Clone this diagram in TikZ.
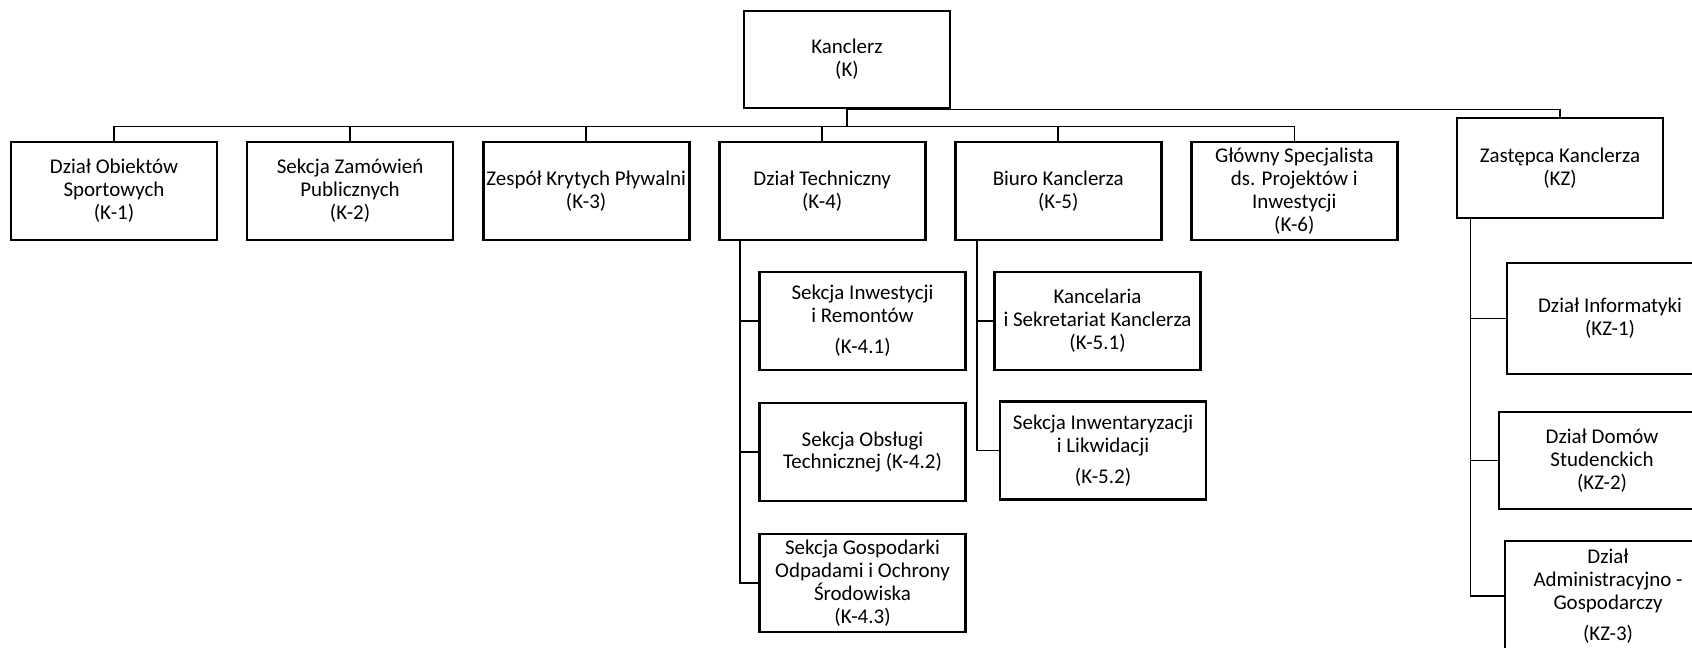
\documentclass[tikz,border=0pt]{standalone}
\usepackage{fontspec}
\setmainfont{Carlito}
\usetikzlibrary{positioning}

\begin{document}
\begin{tikzpicture}[x=0.025cm,y=-0.025cm,node distance=5.9cm,
                    font=\fontsize{14.9}{16.3}\selectfont,
                    unit/.style={draw,line width=2pt,minimum width=5.15cm,
                                 minimum height=2.45cm,align=center,inner sep=1pt},
                    link/.style={line width=1.1pt}]
  \useasboundingbox (0,0) rectangle (1692,647);
  \fill[white] (0,0) rectangle (1692,647);
  \clip (0,0) rectangle (1692,647);

  \node[unit,minimum height=2.425cm] (K) at (847,59.5) {Kanclerz\\(K)};

  \node[unit]         (K1) at (114,191)   {Dział Obiektów\\Sportowych\\(K-1)};
  \node[unit]         (K2) [right of=K1]  {Sekcja Zamówień\\Publicznych\\(K-2)};
  \node[unit]         (K3) [right of=K2]  {Zespół Krytych Pływalni\\(K-3)};
  \node[unit]         (K4) [right of=K3]  {Dział Techniczny\\(K-4)};
  \node[unit]         (K5) [right of=K4]  {Biuro Kanclerza\\(K-5)};
  \node[unit]         (K6) [right of=K5]  {Główny Specjalista\\ds. Projektów i\\Inwestycji\\(K-6)};
  \node[unit,minimum height=2.5cm] (KZ) at (1560,168) {Zastępca Kanclerza\\(KZ)};

  % Dzial Techniczny
  \node[unit]         (K41) at (862.5,321) {Sekcja Inwestycji\\i Remontów\\[0.2cm](K-4.1)};
  \node[unit]         (K42) [below of=K41,node distance=3.275cm] {Sekcja Obsługi\\Technicznej (K-4.2)};
  \node[unit]         (K43) [below of=K42,node distance=3.275cm] {Sekcja Gospodarki\\Odpadami i Ochrony\\Środowiska\\(K-4.3)};

  % Biuro Kanclerza
  \node[unit]         (K51) at (1097.5,321) {Kancelaria\\i Sekretariat Kanclerza\\(K-5.1)};
  \node[unit]         (K52) at (1103,450.5) {Sekcja Inwentaryzacji\\i Likwidacji\\[0.2cm](K-5.2)};

  % Zastepca Kanclerza
  \node[unit,minimum height=2.775cm] (KZ1) at (1610,318.5) {Dział Informatyki\\(KZ-1)};
  \node[unit,minimum height=2.425cm] (KZ2) at (1602,460.5) {Dział Domów\\Studenckich\\(KZ-2)};
  \node[unit,minimum height=2.75cm]  (KZ3) at (1608,596)   {Dział\\Administracyjno -\\Gospodarczy\\[0.2cm](KZ-3)};

  \foreach \n in {K1,K2,K3,K4,K5,K6}
    \draw[link] (K.south) -- ++(0,17) -| (\n.north);
  \draw[link] (K.south) -| (KZ.north);

  \foreach \n in {K41,K42,K43}
    \draw[link] ([xshift=0.55cm]K4.south west) |- (\n.west);
  \foreach \n in {K51,K52}
    \draw[link] ([xshift=0.575cm]K5.south west) |- (\n.west);
  \foreach \n in {KZ1,KZ2,KZ3}
    \draw[link] ([xshift=0.375cm]KZ.south west) |- (\n.west);
\end{tikzpicture}
\end{document}
